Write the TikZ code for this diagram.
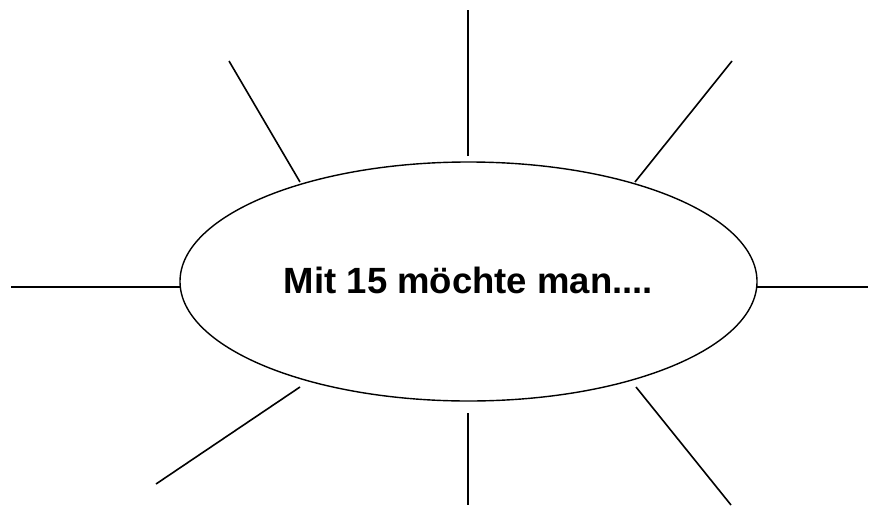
\documentclass[tikz,border=0pt]{standalone}
\usepackage{fontspec}
\setmainfont{Liberation Sans}
\usepackage{tikz}
\usetikzlibrary{shapes.geometric, positioning}
\definecolor{InkBlack}{RGB}{0,0,0}
\tikzset{
  topic/.style={
    ellipse, draw=InkBlack, line width=1.4pt,
    minimum width=577pt, minimum height=239pt, inner sep=0pt,
    font=\fontsize{36.5}{40}\selectfont\bfseries, text=InkBlack
  },
  ray/.style={draw=InkBlack, line width=1.6pt}
}
\begin{document}
\begin{tikzpicture}[x=1pt, y=-1pt]
  \useasboundingbox (0,0) rectangle (869,506);

  % Central topic
  \node[topic] (topic) at (468.5,281.5) {\raisebox{3pt}{Mit 15 möchte man....}};

  % ── Ray ends ──
  \coordinate (nIn)  at (468,156); \coordinate (nOut)  at (468,10);
  \coordinate (nwIn) at (300,182); \coordinate (nwOut) at (229,61);
  \coordinate (neIn) at (635,182); \coordinate (neOut) at (732,61);
  \coordinate (wIn)  at (180,287); \coordinate (wOut)  at (11,287);
  \coordinate (eIn)  at (757,287); \coordinate (eOut)  at (868,287);
  \coordinate (swIn) at (300,387); \coordinate (swOut) at (156,484);
  \coordinate (sIn)  at (468,413); \coordinate (sOut)  at (468,505);
  \coordinate (seIn) at (636,387); \coordinate (seOut) at (731,505);

  % ── Rays ──
  \draw[ray] (nIn)  -- (nOut);
  \draw[ray] (nwIn) -- (nwOut);
  \draw[ray] (neIn) -- (neOut);
  \draw[ray] (wIn)  -- (wOut);
  \draw[ray] (eIn)  -- (eOut);
  \draw[ray] (swIn) -- (swOut);
  \draw[ray] (sIn)  -- (sOut);
  \draw[ray] (seIn) -- (seOut);
\end{tikzpicture}
\end{document}
